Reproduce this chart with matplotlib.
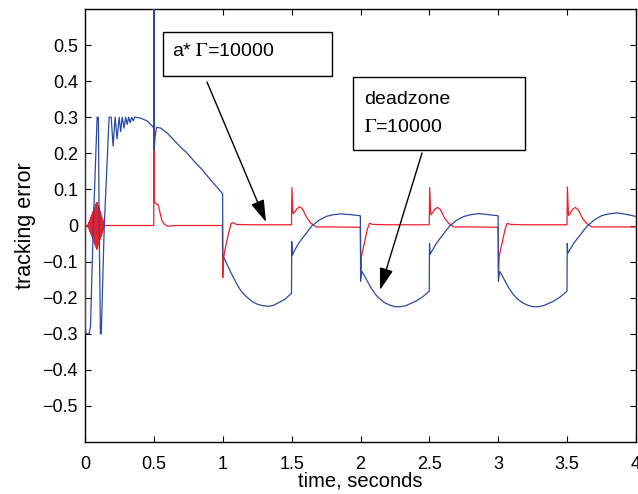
import matplotlib
matplotlib.use("Agg")
import matplotlib.pyplot as plt
from matplotlib.patches import Rectangle

plt.rcParams['font.family'] = ['Liberation Sans', 'DejaVu Sans']
plt.rcParams['mathtext.fontset'] = 'stix'

# ---------------- data ----------------
# deadzone, Gamma=10000 (blue)
blue_t = [0.000, 0.003, 0.006, 0.030, 0.040, 0.060, 0.088, 0.097, 0.103, 0.112, 0.118, 0.140, 0.175,
          0.190, 0.204, 0.219, 0.233, 0.248, 0.259, 0.270, 0.284, 0.295, 0.306, 0.317, 0.328, 0.339,
          0.350, 0.360, 0.400, 0.450, 0.490, 0.499, 0.500, 0.502, 0.510, 0.520, 0.550, 0.600, 0.650,
          0.700, 0.735, 0.765, 0.800, 0.850, 0.900, 0.950, 0.999,
          1.001, 1.010, 1.025, 1.040, 1.060, 1.080, 1.105, 1.130, 1.155, 1.180, 1.215, 1.250, 1.290,
          1.330, 1.370, 1.400, 1.450, 1.499,
          1.501, 1.505, 1.520, 1.550, 1.575, 1.600, 1.625, 1.650, 1.700, 1.750, 1.800, 1.860, 1.930, 1.999,
          2.001, 2.010, 2.030, 2.055, 2.080, 2.105, 2.130, 2.155, 2.180, 2.215, 2.250, 2.290, 2.330,
          2.400, 2.450, 2.499,
          2.501, 2.505, 2.520, 2.550, 2.575, 2.600, 2.625, 2.650, 2.700, 2.750, 2.800, 2.860, 2.930, 2.999,
          3.001, 3.010, 3.030, 3.055, 3.080, 3.105, 3.130, 3.155, 3.180, 3.215, 3.250, 3.290, 3.330,
          3.400, 3.450, 3.499,
          3.501, 3.505, 3.520, 3.550, 3.575, 3.600, 3.625, 3.650, 3.700, 3.750, 3.800, 3.860, 3.930, 4.000]
blue_v = [0.30, -0.28, -0.30, -0.30, -0.28, 0.00, 0.30, 0.30, 0.00, -0.30, -0.30, 0.00, 0.30,
          0.30, 0.22, 0.30, 0.24, 0.30, 0.26, 0.30, 0.27, 0.30, 0.28, 0.30, 0.285, 0.30,
          0.29, 0.30, 0.298, 0.29, 0.275, 0.27, 0.70, 0.21, 0.25, 0.272, 0.27, 0.255, 0.235,
          0.215, 0.203, 0.19, 0.175, 0.155, 0.132, 0.11, 0.088,
          -0.085, -0.09, -0.103, -0.115, -0.131, -0.146, -0.164, -0.18, -0.191, -0.20, -0.211, -0.218,
          -0.222, -0.224, -0.221, -0.215, -0.205, -0.188,
          -0.045, -0.083, -0.07, -0.05, -0.037, -0.025, -0.012, 0.0, 0.015, 0.025, 0.03, 0.032, 0.03, 0.027,
          -0.155, -0.127, -0.14, -0.158, -0.175, -0.189, -0.20, -0.208, -0.215, -0.221, -0.225,
          -0.225, -0.222, -0.21, -0.198, -0.182,
          -0.05, -0.08, -0.07, -0.05, -0.037, -0.025, -0.012, 0.0, 0.015, 0.025, 0.03, 0.033, 0.03, 0.027,
          -0.155, -0.127, -0.14, -0.158, -0.175, -0.189, -0.20, -0.208, -0.215, -0.221, -0.225,
          -0.225, -0.222, -0.21, -0.198, -0.182,
          -0.05, -0.077, -0.067, -0.048, -0.036, -0.024, -0.011, 0.0, 0.016, 0.027, 0.032, 0.035, 0.031, 0.025]

# a*, Gamma=10000 (red)
red_t = [0.000, 0.017,
         0.020, 0.023, 0.026, 0.029, 0.032, 0.035, 0.038, 0.041, 0.044, 0.047, 0.050, 0.053, 0.056,
         0.059, 0.062, 0.065, 0.068, 0.071, 0.074, 0.077, 0.080, 0.083, 0.086, 0.089, 0.092, 0.095,
         0.098, 0.101, 0.104, 0.107, 0.110, 0.113, 0.116, 0.119, 0.122, 0.125, 0.128, 0.131, 0.134,
         0.137, 0.140, 0.143,
         0.499, 0.500, 0.503, 0.510, 0.530, 0.545, 0.560, 0.580, 0.600, 0.650, 0.997,
         1.000, 1.006, 1.020, 1.040, 1.060, 1.070, 1.100, 1.200, 1.499,
         1.502, 1.510, 1.520, 1.540, 1.560, 1.580, 1.610, 1.640, 1.680, 1.800, 1.999,
         2.002, 2.007, 2.030, 2.050, 2.065, 2.090, 2.200, 2.499,
         2.502, 2.510, 2.520, 2.540, 2.560, 2.580, 2.610, 2.640, 2.680, 2.800, 2.999,
         3.002, 3.007, 3.030, 3.050, 3.065, 3.090, 3.200, 3.499,
         3.502, 3.510, 3.520, 3.540, 3.560, 3.580, 3.610, 3.640, 3.680, 3.800, 4.000]
red_v = [-0.005, 0.000,
         0.000, 0.003, -0.006, 0.009, -0.012, 0.015, -0.018, 0.021, -0.024, 0.027, -0.030, 0.033, -0.036,
         0.039, -0.042, 0.045, -0.048, 0.051, -0.054, 0.057, -0.060, 0.063, -0.066, 0.063, -0.059, 0.056,
         -0.052, 0.049, -0.045, 0.042, -0.038, 0.035, -0.031, 0.028, -0.024, 0.021, -0.017, 0.014, -0.010,
         0.007, -0.003, 0.000,
         0.000, 0.43, 0.065, 0.062, 0.058, 0.035, 0.012, 0.002, -0.002, 0.000, 0.000,
         -0.145, -0.09, -0.06, -0.025, 0.005, 0.008, 0.003, 0.002, 0.002,
         0.105, 0.033, 0.036, 0.047, 0.052, 0.045, 0.022, 0.006, -0.004, -0.004, -0.005,
         -0.128, -0.085, -0.045, -0.010, 0.006, 0.003, 0.002, 0.002,
         0.105, 0.030, 0.034, 0.046, 0.050, 0.044, 0.021, 0.006, -0.004, -0.004, -0.005,
         -0.125, -0.085, -0.045, -0.010, 0.006, 0.003, 0.002, 0.002,
         0.107, 0.028, 0.032, 0.045, 0.050, 0.044, 0.021, 0.006, -0.004, -0.004, -0.004]

x_ticks = [0, 0.5, 1, 1.5, 2, 2.5, 3, 3.5, 4]
x_ticklabels = ['0', '0.5', '1', '1.5', '2', '2.5', '3', '3.5', '4']
y_ticks = [-0.5, -0.4, -0.3, -0.2, -0.1, 0, 0.1, 0.2, 0.3, 0.4, 0.5]
y_ticklabels = ['\u22120.5', '\u22120.4', '\u22120.3', '\u22120.2', '\u22120.1', '0',
                '0.1', '0.2', '0.3', '0.4', '0.5']

# ---------------- figure ----------------
W, H = 638, 494
fig = plt.figure(figsize=(W / 100, H / 100), dpi=100)
ax = fig.add_axes([85 / W, 1 - 442 / H, 551 / W, 433 / H])

ax.plot(red_t, red_v, color='#e8212b', lw=0.9, zorder=2)
ax.plot(blue_t, blue_v, color='#2b4a9f', lw=0.9, zorder=3)

ax.set_xlim(0, 4)
ax.set_ylim(-0.6, 0.6)
ax.set_xticks(x_ticks)
ax.set_xticklabels(x_ticklabels)
ax.set_yticks(y_ticks)
ax.set_yticklabels(y_ticklabels)
ax.tick_params(direction='in', length=4, width=0.8, top=True, right=True,
               labelsize=13)
ax.tick_params(axis='x', pad=10)
ax.tick_params(axis='y', pad=5)
for s in ax.spines.values():
    s.set_linewidth(1.0)
ax.set_xlabel('time, seconds', fontsize=14.5, labelpad=-1)
ax.set_ylabel('tracking error', fontsize=15.5, labelpad=5)


def fx(px):
    return px / W


def fy(py):
    return 1 - py / H


# annotation boxes
fig.patches.append(Rectangle((fx(163), fy(76)), (332 - 163) / W, (76 - 32) / H,
                             transform=fig.transFigure, fc='white', ec='black', lw=1.0, zorder=5))
fig.text(fx(172), fy(52), 'a* $\\Gamma$=10000', fontsize=14, va='center', ha='left', zorder=6)

fig.patches.append(Rectangle((fx(353), fy(150)), (525 - 353) / W, (150 - 77) / H,
                             transform=fig.transFigure, fc='white', ec='black', lw=1.0, zorder=5))
fig.text(fx(364), fy(99), 'deadzone', fontsize=14, va='center', ha='left', zorder=6)
fig.text(fx(364), fy(127), '$\\Gamma$=10000', fontsize=14, va='center', ha='left', zorder=6)

arrow_style = dict(arrowstyle='-|>,head_length=0.9,head_width=0.28', color='black', lw=1.0,
                   mutation_scale=15, shrinkA=0, shrinkB=0)
ax.annotate('', xy=(fx(266), fy(222)), xycoords='figure fraction',
            xytext=(fx(207), fy(82)), textcoords='figure fraction', arrowprops=arrow_style)
ax.annotate('', xy=(fx(380), fy(290)), xycoords='figure fraction',
            xytext=(fx(422), fy(153)), textcoords='figure fraction', arrowprops=arrow_style)

fig.savefig('out.png', dpi=100)
